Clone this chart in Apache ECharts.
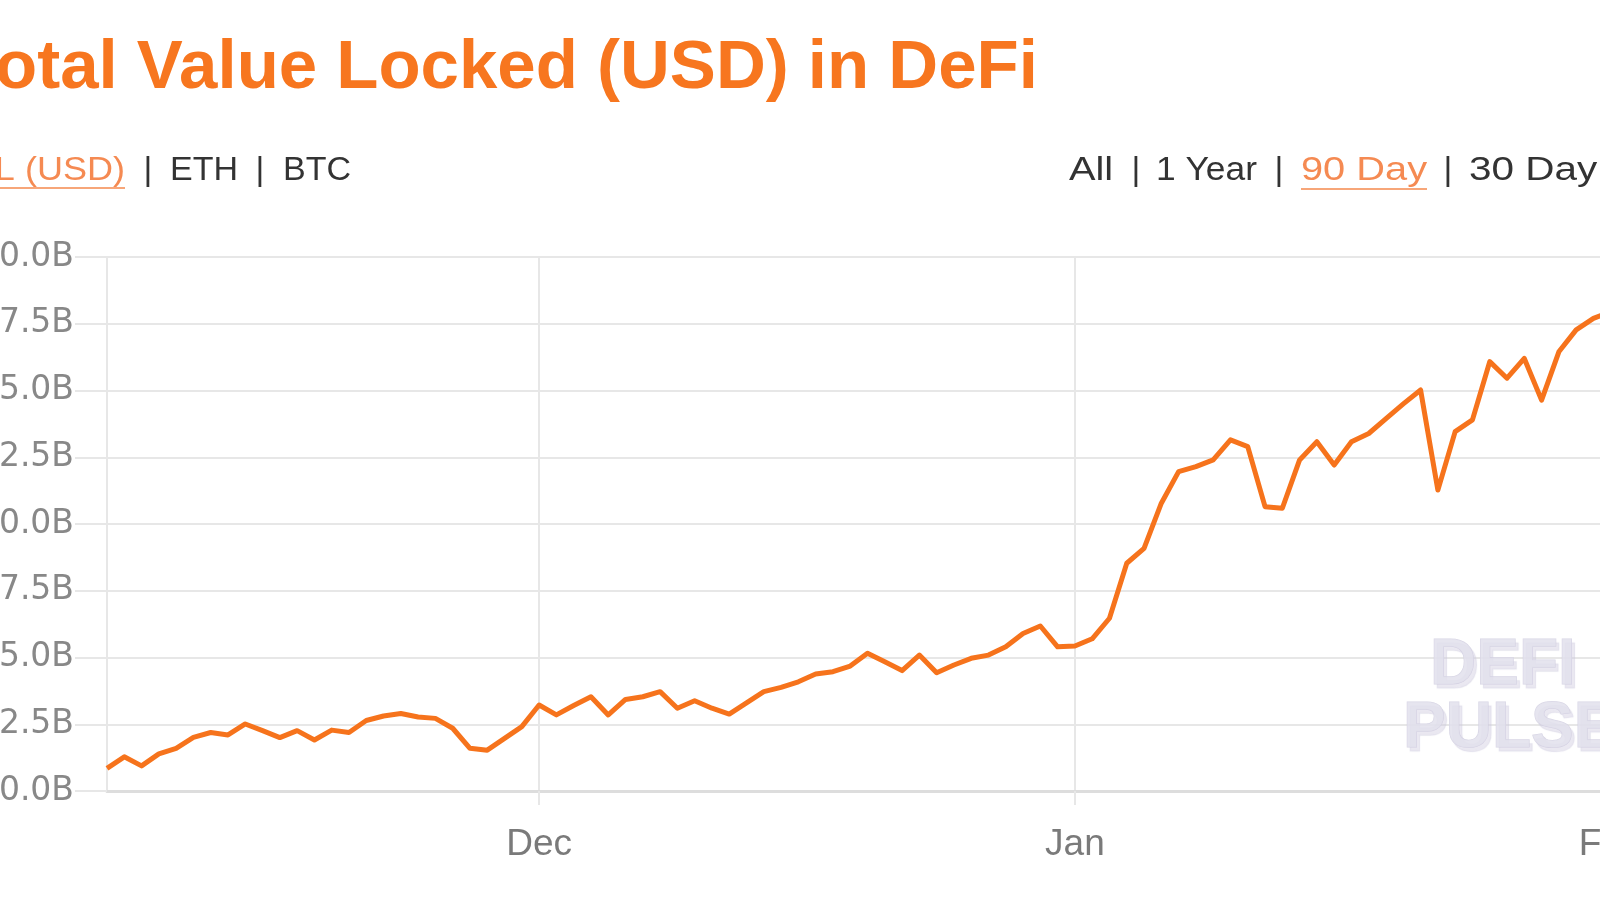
<!DOCTYPE html>
<html>
<head>
<meta charset="utf-8">
<script src="https://cdn.jsdelivr.net/npm/echarts@6/dist/echarts.min.js"></script>
<style>
  html, body { margin: 0; padding: 0; background: #ffffff; overflow: hidden; width: 1600px; height: 900px; }
  #chart { position: absolute; left: 0; top: 0; width: 1700px; height: 900px; }
</style>
</head>
<body>
<div id="chart"></div>
<script>
// ---- data ----
const startDate = '2020-11-06';
const tvlBillions = [
  10.85, 11.28, 10.94, 11.39, 11.60, 12.01, 12.19, 12.10, 12.51, 12.26,
  12.00, 12.26, 11.91, 12.28, 12.19, 12.64, 12.81, 12.90, 12.77, 12.72,
  12.35, 11.60, 11.53, 11.97, 12.41, 13.22, 12.85, 13.20, 13.53, 12.85,
  13.43, 13.53, 13.72, 13.10, 13.38, 13.10, 12.88, 13.30, 13.72, 13.88,
  14.09, 14.38, 14.47, 14.68, 15.16, 14.84, 14.51, 15.09, 14.43, 14.72,
  14.97, 15.09, 15.40, 15.90, 16.18, 15.40, 15.43, 15.70, 16.47, 18.53,
  19.09, 20.78, 21.96, 22.15, 22.40, 23.15, 22.90, 20.65, 20.59, 22.40,
  23.08, 22.21, 23.08, 23.39, 23.95, 24.50, 25.02, 21.27, 23.46, 23.90,
  26.08, 25.46, 26.20, 24.64, 26.45, 27.27, 27.70, 27.95, 28.10
];
const monthNames = ['Jan','Feb','Mar','Apr','May','Jun','Jul','Aug','Sep','Oct','Nov','Dec'];
const yTicks = { min: 10, max: 30, step: 2.5 };
const titleText = 'Total Value Locked (USD) in DeFi';
const leftLinks = ['TVL (USD)', 'ETH', 'BTC'];
const rightLinks = ['All', '1 Year', '90 Day', '30 Day'];
const watermark = ['DEFI', 'PULSE'];

// category dates, one per day
const dates = [];
(function () {
  const d0 = new Date(startDate + 'T00:00:00Z');
  for (let i = 0; i < tvlBillions.length; i++) {
    const d = new Date(d0.getTime() + i * 86400000);
    dates.push(d.toISOString().slice(0, 10));
  }
})();
const isMonthStart = (idx) => dates[idx] && dates[idx].slice(8, 10) === '01';

// ---- styles ----
const ORANGE = '#f7761f';
const LINK = '#f58a52';
const LINK_UL = '#f7a679';
const DARK = '#333333';
const GRID = '#e7e7e7';
const LABEL = '#888888';
const FONT = '"Liberation Sans", Arial, sans-serif';
const YFONT = '"DejaVu Sans", sans-serif';

const chart = echarts.init(document.getElementById('chart'), null, { renderer: 'canvas' });

const subY = 171;
const subSize = 34;
function sub(text, x, color, align, sx) {
  return { type: 'text', x: x, y: subY, scaleX: sx || 1, originX: 0,
    style: { text: text, fill: color, fontSize: subSize, fontFamily: FONT, align: align, verticalAlign: 'middle' } };
}
const wmStyle = (t) => ({ text: t, fill: 'rgba(226,224,236,0.85)', fontSize: 64, fontWeight: 'bold', fontFamily: FONT,
  align: 'left', verticalAlign: 'middle', stroke: 'rgba(212,209,226,0.9)', lineWidth: 1,
  textShadowColor: 'rgba(205,202,222,0.5)', textShadowOffsetX: 3, textShadowOffsetY: 4, textShadowBlur: 1 });

const graphics = [
  { type: 'text', x: -42, y: 69, z: 10,
    style: { text: titleText, fill: ORANGE, fontSize: 69, fontWeight: 'bold', fontFamily: FONT, align: 'left', verticalAlign: 'middle' } },
  // left link group
  sub(leftLinks[0], 125, LINK, 'right', 1.06),
  { type: 'line', shape: { x1: 0, y1: 188, x2: 125, y2: 188 }, style: { stroke: LINK_UL, lineWidth: 2 } },
  sub('|', 148, DARK, 'center'),
  sub(leftLinks[1], 170, DARK, 'left'),
  sub('|', 260, DARK, 'center'),
  sub(leftLinks[2], 283, DARK, 'left'),
  // right link group
  sub(rightLinks[0], 1069, DARK, 'left', 1.17),
  sub('|', 1136, DARK, 'center'),
  sub(rightLinks[1], 1156, DARK, 'left', 1.04),
  sub('|', 1279, DARK, 'center'),
  sub(rightLinks[2], 1301, LINK, 'left', 1.17),
  { type: 'line', shape: { x1: 1301, y1: 189, x2: 1427, y2: 189 }, style: { stroke: LINK_UL, lineWidth: 2 } },
  sub('|', 1448, DARK, 'center'),
  sub(rightLinks[3], 1469, DARK, 'left', 1.19),
  // watermark
  { type: 'text', x: 1430, y: 666, z: 5, style: wmStyle(watermark[0]) },
  { type: 'text', x: 1403, y: 729, z: 5, style: wmStyle(watermark[1]) }
];

const option = {
  animation: false,
  backgroundColor: '#ffffff',
  grid: { left: 107, top: 257, bottom: 109, right: 72, containLabel: false, outerBoundsMode: 'none' },
  xAxis: {
    type: 'category',
    data: dates,
    boundaryGap: false,
    axisLine: { show: true, lineStyle: { color: '#dddddd', width: 3 } },
    axisTick: { show: true, length: 14, interval: (i) => isMonthStart(i), lineStyle: { color: GRID, width: 2 } },
    axisLabel: {
      interval: (i) => isMonthStart(i),
      formatter: (v) => monthNames[parseInt(v.slice(5, 7), 10) - 1],
      color: '#7a7a7a', fontSize: 37, fontFamily: FONT, margin: 35
    },
    splitLine: { show: true, interval: (i) => isMonthStart(i), lineStyle: { color: GRID, width: 2 } }
  },
  yAxis: {
    type: 'value',
    min: yTicks.min, max: yTicks.max, interval: yTicks.step,
    axisLine: { show: true, lineStyle: { color: GRID, width: 2 } },
    axisTick: { show: true, length: 32, lineStyle: { color: GRID, width: 2 } },
    axisLabel: { formatter: (v) => v.toFixed(1) + 'B', color: LABEL, fontSize: 33, fontFamily: YFONT, margin: 33 },
    splitLine: { show: true, lineStyle: { color: GRID, width: 2 } }
  },
  series: [{
    type: 'line',
    data: tvlBillions,
    showSymbol: false,
    symbol: 'none',
    lineStyle: { color: '#f6731c', width: 5, join: 'round' },
    z: 3
  }],
  graphic: graphics
};
chart.setOption(option);
</script>
</body>
</html>
